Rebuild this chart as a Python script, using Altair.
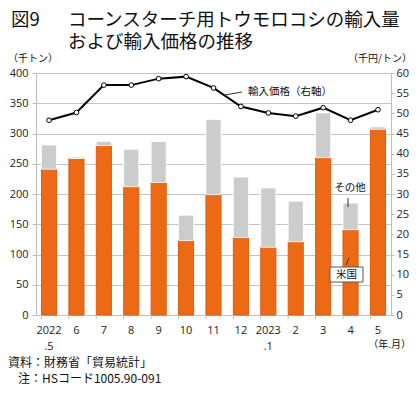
import altair as alt
import pandas as pd

months = ["2022|.5", "6", "7", "8", "9", "10", "11", "12", "2023|.1", "2", "3", "4", "5"]
us = [241, 259, 280, 212, 219, 123, 199, 128, 112, 121, 260, 141, 307]
other = [40, 0, 7, 62, 68, 42, 124, 100, 98, 67, 74, 44, 4]
price = [48.3, 50.2, 57.0, 57.0, 58.6, 59.1, 56.3, 51.7, 50.1, 49.3, 51.4, 48.3, 50.9]
left_ticks = list(range(0, 401, 50))
right_ticks = list(range(0, 61, 5))

df = pd.DataFrame({"month": months, "us": us, "other": other, "price": price})

JP = "Noto Sans CJK JP"
NUM = "Open Sans"
ORANGE = "#EC6A15"
GRAY = "#CCCCCC"
AXC = "#BFBFBF"

W, H = 355, 242

xenc = alt.X("month:N", sort=months, scale=alt.Scale(paddingInner=0.45, paddingOuter=0.2),
             axis=alt.Axis(title=None, labelAngle=0, ticks=False, tickSize=0, domain=True,
                           domainColor=AXC, labelPadding=9, labelFont=NUM, labelFontSize=11,
                           labelColor="#222", labelLineHeight=16,
                           labelExpr="split(datum.label, '|')"))

left_axis = alt.Axis(title=None, values=left_ticks, grid=True, gridColor="#C4C4C4",
                     domainColor=AXC, tickColor=AXC, tickSize=4, labelPadding=4,
                     labelFont=NUM, labelFontSize=11, labelColor="#222", labelOverlap=False)

base = alt.Chart(df)

orange = base.mark_bar(color=ORANGE, stroke="#E05A0C", strokeWidth=1).encode(
    x=xenc, y=alt.Y("us:Q", scale=alt.Scale(domain=[0, 400]), axis=left_axis))
gray = base.transform_calculate(total="datum.us + datum.other").mark_bar(
    color=GRAY, stroke="white", strokeWidth=0.8).encode(
    x=alt.X("month:N", sort=months),
    y=alt.Y("us:Q", scale=alt.Scale(domain=[0, 400]), axis=left_axis), y2="total:Q")
xticks = base.mark_rule(color=AXC).encode(
    x=alt.X("month:N", sort=months, bandPosition=0), y=alt.value(H), y2=alt.value(H + 4))

bars = alt.layer(orange, gray, xticks)

line = base.mark_line(color="black", strokeWidth=2, point=alt.OverlayMarkDef(
    filled=True, fill="white", stroke="black", strokeWidth=1, size=22)).encode(
    x=alt.X("month:N", sort=months),
    y=alt.Y("price:Q", scale=alt.Scale(domain=[0, 60]),
            axis=alt.Axis(title=None, orient="right", values=right_ticks, grid=False,
                          domainColor=AXC, tickColor=AXC, tickSize=3, labelPadding=2,
                          labelFont=NUM, labelFontSize=11, labelColor="#222",
                          labelOverlap=False)))

ann = pd.DataFrame({"d": [0]})
a = alt.Chart(ann)


def txt(t, x, y, size=10.5, align="left", font=JP, baseline="middle"):
    return a.mark_text(text=t, font=font, fontSize=size, align=align, baseline=baseline,
                       color="#111").encode(x=alt.value(x), y=alt.value(y))


def seg(x1, y1, x2, y2, color="#333", w=1):
    return a.mark_rule(color=color, strokeWidth=w).encode(
        x=alt.value(x1), x2=alt.value(x2), y=alt.value(y1), y2=alt.value(y2))


annots = [
    txt("図9", -25, -53, size=18.5),
    txt("コーンスターチ用トウモロコシの輸入量", 32, -53, size=18.5),
    txt("および輸入価格の推移", 32, -31.5, size=18.5),
    txt("（千トン）", -28, -14, size=10),
    txt("（千円/トン）", 376, -14, size=10, align="right"),
    txt("（年.月）", 375, 272, size=10, align="right"),
    txt("資料：財務省「貿易統計」", -28, 290, size=12),
    txt("注：HSコード1005.90-091", -18, 306, size=12),
    txt("輸入価格（右軸）", 212, 19, size=10.5),
    seg(189, 22, 206, 19),
    txt("その他", 314, 115, size=10.5, align="center"),
    seg(312, 125, 312, 134),
    a.mark_rect(fill="white", stroke="#555", strokeWidth=1).encode(
        x=alt.value(294), x2=alt.value(327), y=alt.value(194), y2=alt.value(209)),
    txt("米国", 310.5, 202, size=10.5, align="center"),
    seg(313, 185, 310, 192),
]

chart = alt.layer(bars, line, *annots).resolve_scale(y="independent").properties(
    width=W, height=H, autosize=alt.AutoSizeParams(type="none"),
    padding={"left": 28, "top": 65, "right": 21, "bottom": 70},
).configure_view(stroke=None)

chart.save("out.html", embed_options={"renderer": "svg", "actions": False})
